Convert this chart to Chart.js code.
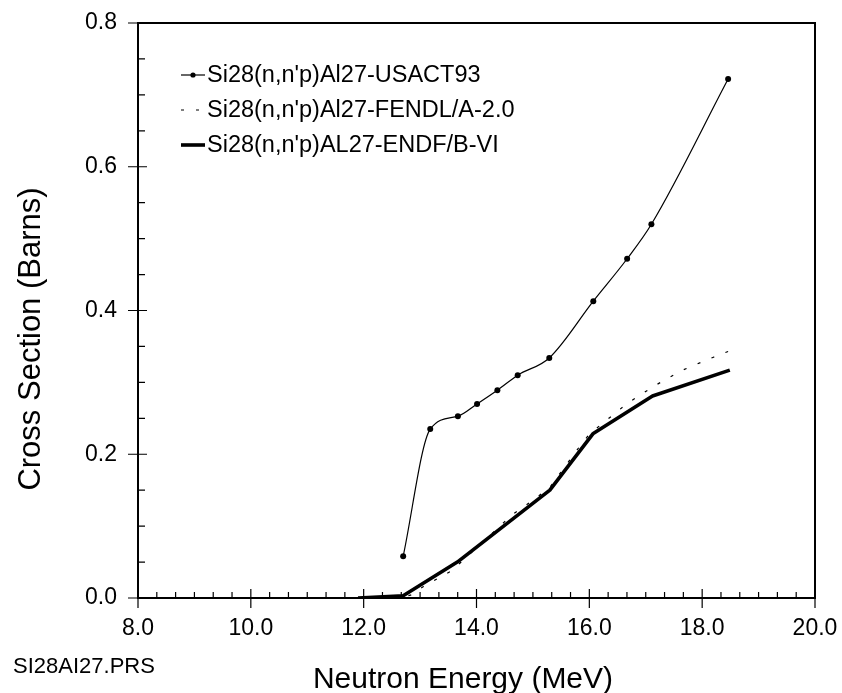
<!DOCTYPE html>
<html>
<head>
<meta charset="utf-8">
<title>Si28(n,n'p)Al27</title>
<script src="https://cdn.jsdelivr.net/npm/chart.js@4.4.1/dist/chart.umd.min.js"></script>
<style>
  html, body { margin: 0; padding: 0; background: #fff; }
  #wrap { width: 842px; height: 693px; }
</style>
</head>
<body>
<div id="wrap"><canvas id="xs-chart" width="842" height="693"></canvas></div>
<script>
/* ─── Data ─── */
const usactEnergy = [12.70, 13.18, 13.67, 14.01, 14.37, 14.73, 15.29, 16.07, 16.67, 17.10, 18.46];
const usactXS     = [0.058, 0.235, 0.253, 0.270, 0.289, 0.310, 0.334, 0.413, 0.472, 0.520, 0.722];

const fendlEnergy = [12.0, 12.6, 12.83, 13.06, 13.56, 13.99, 14.62, 15.07, 15.31, 15.82, 16.0, 16.66, 17.15, 17.65, 18.2, 18.46];
const fendlXS     = [0.0, 0.0, 0.004, 0.016, 0.038, 0.069, 0.115, 0.140, 0.155, 0.210, 0.228, 0.270, 0.295, 0.317, 0.335, 0.343];

const endfEnergy  = [11.9, 12.7, 13.66, 15.30, 16.07, 17.12, 18.49];
const endfXS      = [0.0, 0.003, 0.050, 0.150, 0.229, 0.281, 0.317];

const seriesLabels = [
  "Si28(n,n'p)Al27-USACT93",
  "Si28(n,n'p)Al27-FENDL/A-2.0",
  "Si28(n,n'p)AL27-ENDF/B-VI",
];

const xTicksMajor = [8, 10, 12, 14, 16, 18, 20];
const yTicksMajor = [0, 0.2, 0.4, 0.6, 0.8];

const FONT = "'Liberation Sans', Arial, Helvetica, sans-serif";
const INK  = '#000';

const pts = (xs, ys) => xs.map((x, i) => ({ x, y: ys[i] }));

/* keep the plot box where the layout padding puts it */
const noLabelPadding = s => {
  s.paddingLeft = s.paddingRight = s.paddingTop = s.paddingBottom = 0;
};

/* ─── Frame, ticks, legend, titles ─── */
const framePlugin = {
  id: 'frame',
  beforeDatasetsDraw(chart) {
    const { ctx, chartArea: a, scales: { x, y } } = chart;
    ctx.save();
    ctx.strokeStyle = INK;
    ctx.lineWidth = 2;
    ctx.strokeRect(a.left, a.top, a.right - a.left, a.bottom - a.top);

    ctx.lineWidth = 1.2;
    ctx.beginPath();
    // x ticks: minor every 1/3 MeV pointing up, majors cross the axis
    for (let k = 0; k <= 36; k++) {
      const px = x.getPixelForValue(8 + k / 3);
      if (k % 6 === 0) {
        ctx.moveTo(px, a.bottom - 9); ctx.lineTo(px, a.bottom + 10);
      } else {
        ctx.moveTo(px, a.bottom); ctx.lineTo(px, a.bottom - 6);
      }
    }
    // y ticks: minor every 0.05 pointing right
    for (let k = 0; k <= 16; k++) {
      const py = y.getPixelForValue(k * 0.05);
      if (k % 4 === 0) {
        ctx.moveTo(a.left - 10, py); ctx.lineTo(a.left + 9, py);
      } else {
        ctx.moveTo(a.left, py); ctx.lineTo(a.left + 7, py);
      }
    }
    ctx.stroke();
    ctx.restore();
  },
  afterDraw(chart) {
    const { ctx } = chart;
    const ds = chart.data.datasets;
    ctx.save();
    ctx.fillStyle = INK;
    ctx.strokeStyle = INK;

    // legend
    const rows = [75, 110, 145];
    ctx.font = `23.5px ${FONT}`;
    ctx.textBaseline = 'middle';
    rows.forEach((ry, i) => {
      ctx.beginPath();
      ctx.lineWidth = ds[i].borderWidth;
      ctx.setLineDash(ds[i].borderDash || []);
      ctx.moveTo(181, ry);
      ctx.lineTo(205, ry);
      ctx.stroke();
      ctx.setLineDash([]);
      if (ds[i].pointRadius > 0) {
        ctx.beginPath();
        ctx.arc(193, ry, 2.6, 0, Math.PI * 2);
        ctx.fill();
      }
      ctx.fillText(ds[i].label, 207, ry + 1);
    });

    // axis titles
    ctx.textBaseline = 'alphabetic';
    ctx.textAlign = 'center';
    ctx.font = `30px ${FONT}`;
    ctx.fillText('Neutron Energy (MeV)', 463, 688);

    ctx.save();
    ctx.translate(40, 339);
    ctx.rotate(-Math.PI / 2);
    ctx.font = `31px ${FONT}`;
    ctx.fillText('Cross Section (Barns)', 0, 0);
    ctx.restore();

    ctx.textAlign = 'left';
    ctx.font = `22px ${FONT}`;
    ctx.fillText('SI28AI27.PRS', 13, 673);
    ctx.restore();
  },
};

new Chart(document.getElementById('xs-chart'), {
  type: 'line',
  data: {
    datasets: [
      {
        label: seriesLabels[0],
        data: pts(usactEnergy, usactXS),
        borderColor: INK,
        backgroundColor: INK,
        borderWidth: 1.2,
        pointRadius: 3,
        pointBackgroundColor: INK,
        pointBorderWidth: 0,
        cubicInterpolationMode: 'monotone',
      },
      {
        label: seriesLabels[1],
        data: pts(fendlEnergy, fendlXS),
        borderColor: INK,
        borderWidth: 1.2,
        borderDash: [3, 12],
        pointRadius: 0,
        tension: 0,
      },
      {
        label: seriesLabels[2],
        data: pts(endfEnergy, endfXS),
        borderColor: INK,
        borderWidth: 3.6,
        pointRadius: 0,
        tension: 0,
        borderJoinStyle: 'round',
      },
    ],
  },
  options: {
    responsive: false,
    animation: false,
    devicePixelRatio: 1,
    layout: { padding: { left: 0, top: 23, right: 27, bottom: 0 } },
    plugins: {
      legend: { display: false },
      tooltip: { enabled: false },
    },
    scales: {
      x: {
        type: 'linear',
        min: 8, max: 20,
        afterBuildTicks: s => { s.ticks = xTicksMajor.map(v => ({ value: v })); },
        afterFit: s => { s.height = 95; noLabelPadding(s); },
        grid: { display: false, drawTicks: false },
        border: { display: false },
        ticks: {
          color: INK,
          padding: 17,
          maxRotation: 0,
          font: { family: FONT, size: 23 },
          callback: v => v.toFixed(1),
        },
      },
      y: {
        min: 0, max: 0.8,
        afterBuildTicks: s => { s.ticks = yTicksMajor.map(v => ({ value: v })); },
        afterFit: s => { s.width = 138; noLabelPadding(s); },
        grid: { display: false, drawTicks: false },
        border: { display: false },
        ticks: {
          color: INK,
          padding: 21,
          font: { family: FONT, size: 23 },
          callback: v => v.toFixed(1),
        },
      },
    },
  },
  plugins: [framePlugin],
});
</script>
</body>
</html>
